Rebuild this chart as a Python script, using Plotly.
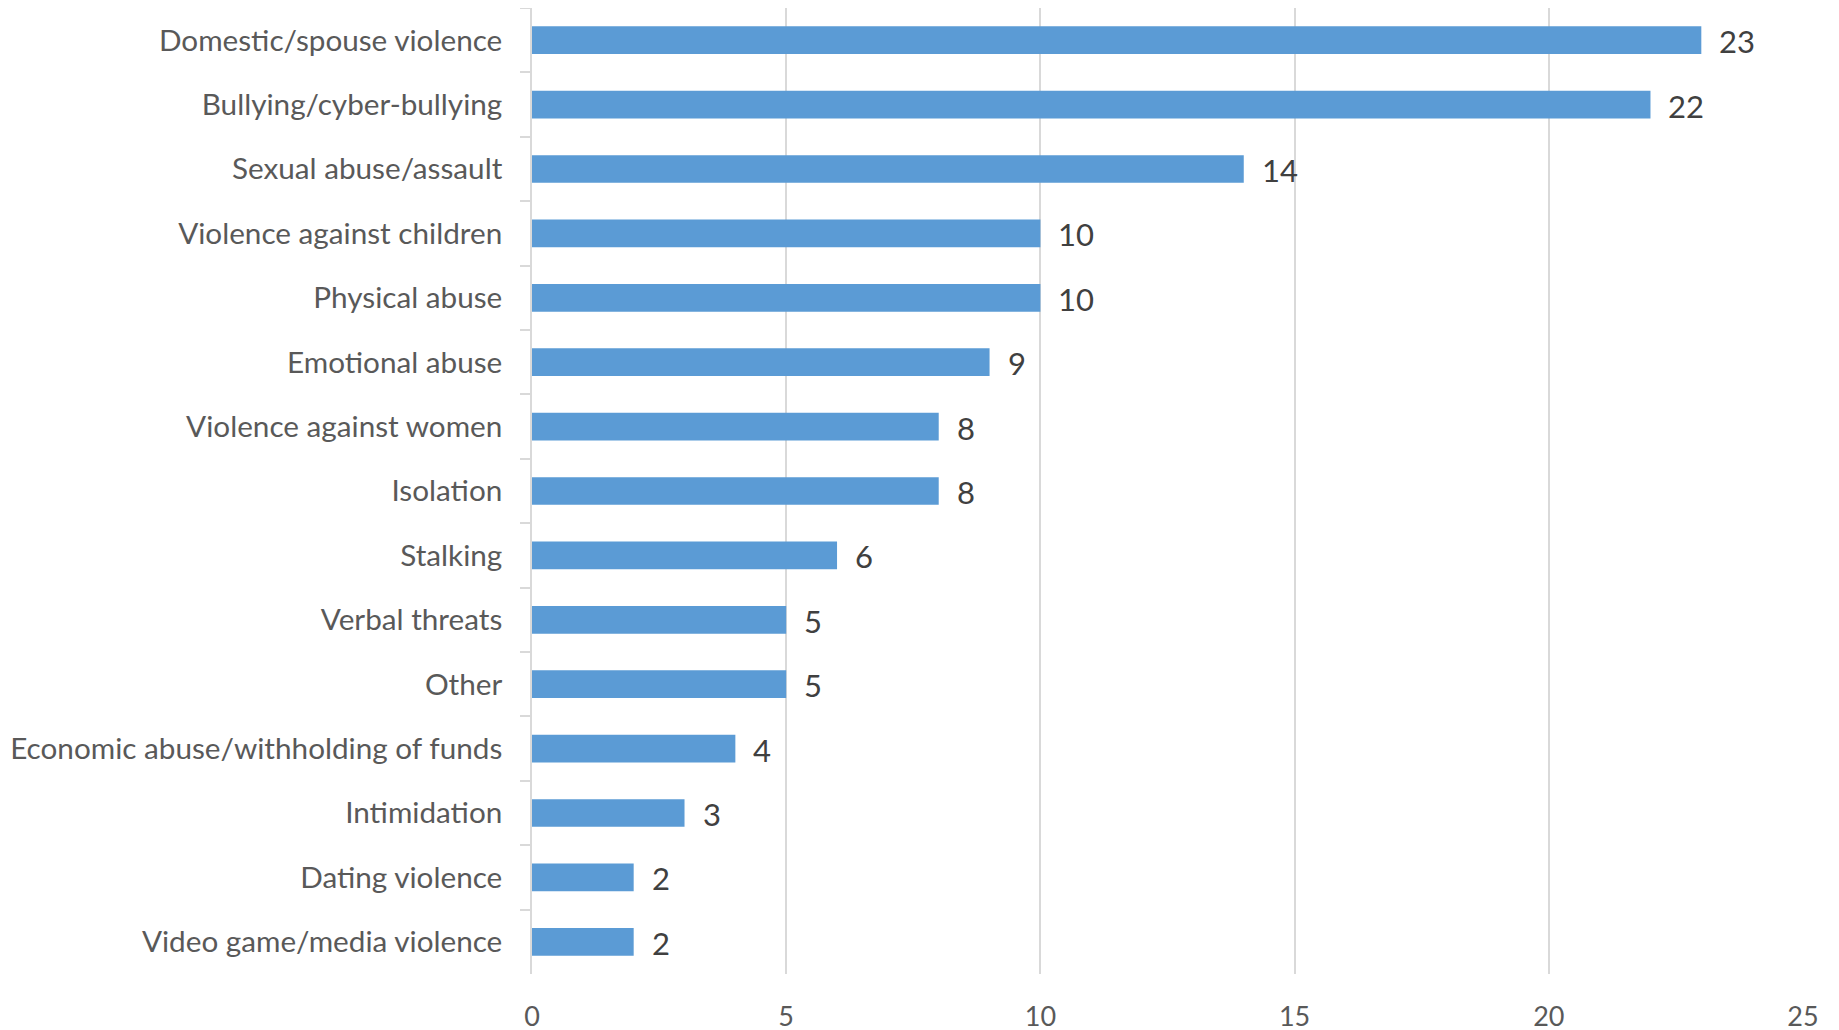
import plotly.graph_objects as go

categories = [
    "Domestic/spouse violence",
    "Bullying/cyber-bullying",
    "Sexual abuse/assault",
    "Violence against children",
    "Physical abuse",
    "Emotional abuse",
    "Violence against women",
    "Isolation",
    "Stalking",
    "Verbal threats",
    "Other",
    "Economic abuse/withholding of funds",
    "Intimidation",
    "Dating violence",
    "Video game/media violence",
]
values = [23, 22, 14, 10, 10, 9, 8, 8, 6, 5, 5, 4, 3, 2, 2]
x_ticks = [0, 5, 10, 15, 20, 25]

FONT = "Lato"

fig = go.Figure(
    go.Bar(
        x=values,
        y=categories,
        orientation="h",
        marker=dict(color="#5b9bd5", line=dict(width=0)),
        width=0.43,
        hoverinfo="x+y",
    )
)

for c, v in zip(categories, values):
    fig.add_annotation(
        x=v, y=c, text=str(v), showarrow=False, xanchor="left", yanchor="middle",
        xshift=16, yshift=-1, font=dict(family=FONT, size=31, color="#404040"),
    )

fig.update_layout(
    width=1839,
    height=1030,
    margin=dict(l=524, r=44, t=0, b=64),
    paper_bgcolor="white",
    plot_bgcolor="white",
    showlegend=False,
)
fig.update_xaxes(
    range=[0, 25],
    tickvals=x_ticks,
    showgrid=True,
    gridcolor="#d9d9d9",
    gridwidth=1.5,
    zeroline=False,
    showline=False,
    ticks="",
    tickfont=dict(family=FONT, size=27, color="#595959"),
    ticklabelstandoff=24,
)
fig.update_yaxes(
    autorange="reversed",
    showgrid=False,
    showline=True,
    linecolor="#d9d9d9",
    linewidth=1.5,
    ticks="outside",
    tickson="boundaries",
    ticklen=10,
    tickcolor="#d9d9d9",
    tickwidth=1.5,
    tickfont=dict(family=FONT, size=29.7, color="#595959"),
    ticklabelstandoff=22,
)

fig.write_html("out.html")
